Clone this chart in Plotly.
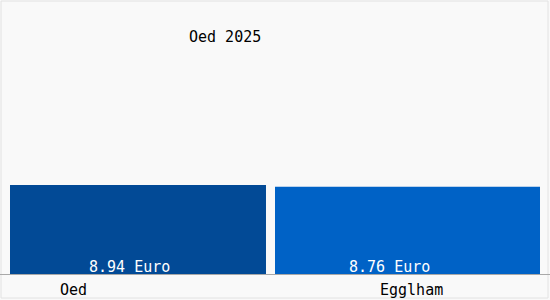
import plotly.graph_objects as go

categories = ["Oed", "Egglham"]
values = [8.94, 8.76]
value_labels = ["8.94 Euro", "8.76 Euro"]
colors = ["#024a96", "#0062c6"]
title_text = "Oed 2025"

FONT = "DejaVu Sans Mono"

# plot area in pixels
L, R, T, B = 10, 10, 0, 25
W, H = 550, 300
PW, PH = W - L - R, H - T - B


def px(x):
    return (x - L) / PW


def py(y):
    return 1 - (y - T) / PH


fig = go.Figure()
fig.add_trace(go.Bar(
    x=categories, y=values,
    width=[0.966, 1.0], offset=-0.5,
    marker=dict(color=colors, line=dict(width=0)),
    hoverinfo="skip",
))

label_shifts = [-13.5, -18]
for cat, lab, dx in zip(categories, value_labels, label_shifts):
    fig.add_annotation(x=cat, y=0, text=lab, showarrow=False,
                       xanchor="center", yanchor="bottom", xshift=dx, yshift=-3,
                       font=dict(family=FONT, size=15, color="white"))

tick_shifts = [-69.5, 3.5]
for cat, dx in zip(categories, tick_shifts):
    fig.add_annotation(x=cat, y=0, text=cat, showarrow=False,
                       xanchor="center", yanchor="top", xshift=dx, yshift=-4,
                       font=dict(family=FONT, size=15, color="black"))

fig.add_annotation(xref="paper", yref="paper", x=px(225), y=py(37),
                   xanchor="center", yanchor="middle", text=title_text,
                   showarrow=False, font=dict(family=FONT, size=15, color="black"))

fig.update_layout(
    width=W, height=H,
    margin=dict(l=L, r=R, t=T, b=B),
    paper_bgcolor="#f9f9f9", plot_bgcolor="#f9f9f9",
    showlegend=False,
    xaxis=dict(showticklabels=False, showgrid=False, zeroline=False,
               showline=False, ticks="", range=[-0.5, 1.5]),
    yaxis=dict(range=[0, 27.3], visible=False),
    shapes=[
        dict(type="rect", xref="paper", yref="paper", x0=px(1), x1=px(548),
             y0=py(298), y1=py(1), line=dict(color="#e2e2e2", width=1)),
        dict(type="line", xref="paper", yref="paper", x0=px(0), x1=px(550),
             y0=py(274.5), y1=py(274.5), line=dict(color="#a8a8a8", width=1)),
    ],
)

fig.write_html("out.html")
